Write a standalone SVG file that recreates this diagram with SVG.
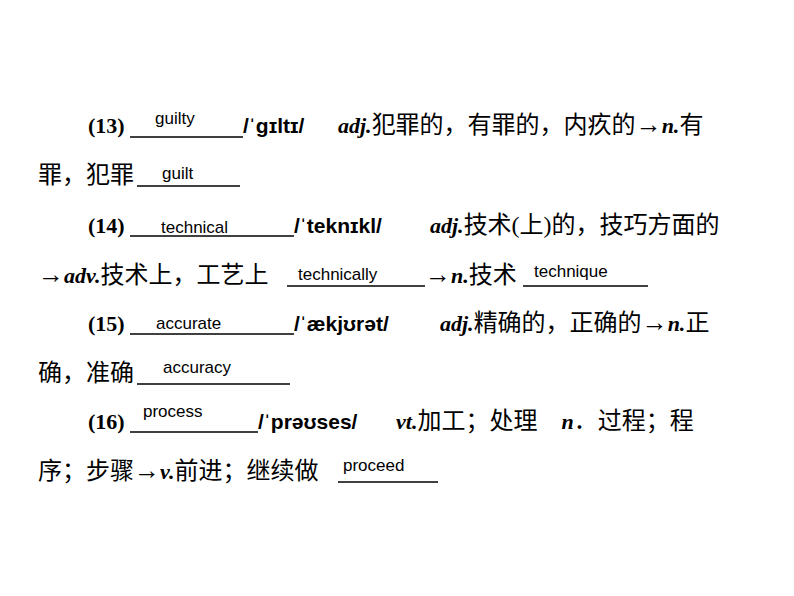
<svg xmlns="http://www.w3.org/2000/svg" width="794" height="596" viewBox="0 0 794 596">
<style>
.t{font-family:"Liberation Serif","Noto Sans CJK SC",serif;font-size:24px;fill:#000}
.b{font-weight:bold;font-size:22px}
.i{font-weight:bold;font-style:italic;font-size:22px}
.r{font-size:26px}
.p{font-family:"Liberation Sans",Arial,sans-serif;font-weight:bold;font-size:21px}
.a{font-family:"Liberation Sans",Arial,sans-serif;font-size:17px;fill:#000}
.u{stroke:#000;stroke-width:1.5}
</style>
<rect width="794" height="596" fill="#fff"/>
<g class="u">
<line x1="130" y1="137" x2="243" y2="137"/>
<line x1="137" y1="186" x2="240" y2="186"/>
<line x1="130" y1="236" x2="294" y2="236"/>
<line x1="287" y1="286" x2="425" y2="286"/>
<line x1="523" y1="286" x2="648" y2="286"/>
<line x1="130" y1="334" x2="294" y2="334"/>
<line x1="137" y1="384" x2="290" y2="384"/>
<line x1="130" y1="432" x2="258" y2="432"/>
<line x1="338" y1="482" x2="438" y2="482"/>
</g>
<text class="a" x="155" y="124">guilty</text>
<text class="a" x="162" y="179">guilt</text>
<text class="a" x="161" y="233">technical</text>
<text class="a" x="298" y="280">technically</text>
<text class="a" x="534" y="277">technique</text>
<text class="a" x="156" y="329">accurate</text>
<text class="a" x="163" y="373">accuracy</text>
<text class="a" x="143" y="417">process</text>
<text class="a" x="343" y="471">proceed</text>

<text class="t" x="88" y="133"><tspan class="b">(13)</tspan></text>
<text class="t" x="243" y="133"><tspan class="p">/ˈɡɪltɪ/</tspan></text>
<text class="t" x="338" y="133"><tspan class="i">adj.</tspan>犯罪的，有罪的，内疚的<tspan class="r">→</tspan><tspan class="i">n.</tspan>有</text>
<text class="t" x="38" y="183">罪，犯罪</text>

<text class="t" x="88" y="233"><tspan class="b">(14)</tspan></text>
<text class="t" x="294" y="233"><tspan class="p">/ˈteknɪkl/</tspan></text>
<text class="t" x="430" y="233"><tspan class="i">adj.</tspan>技术(上)的，技巧方面的</text>
<text class="t" x="38" y="283"><tspan class="r">→</tspan><tspan class="i">adv.</tspan>技术上，工艺上</text>
<text class="t" x="425" y="283"><tspan class="r">→</tspan><tspan class="i">n.</tspan>技术</text>

<text class="t" x="88" y="331"><tspan class="b">(15)</tspan></text>
<text class="t" x="294" y="331"><tspan class="p">/ˈækjʊrət/</tspan></text>
<text class="t" x="440" y="331"><tspan class="i">adj.</tspan>精确的，正确的<tspan class="r">→</tspan><tspan class="i">n.</tspan>正</text>
<text class="t" x="38" y="381">确，准确</text>

<text class="t" x="88" y="429"><tspan class="b">(16)</tspan></text>
<text class="t" x="258" y="429"><tspan class="p">/ˈprəʊses/</tspan></text>
<text class="t" x="396" y="429"><tspan class="i">vt.</tspan>加工；处理　<tspan class="i">n</tspan>．过程；程</text>
<text class="t" x="38" y="479">序；步骤<tspan class="r">→</tspan><tspan class="i">v.</tspan>前进；继续做</text>
</svg>
